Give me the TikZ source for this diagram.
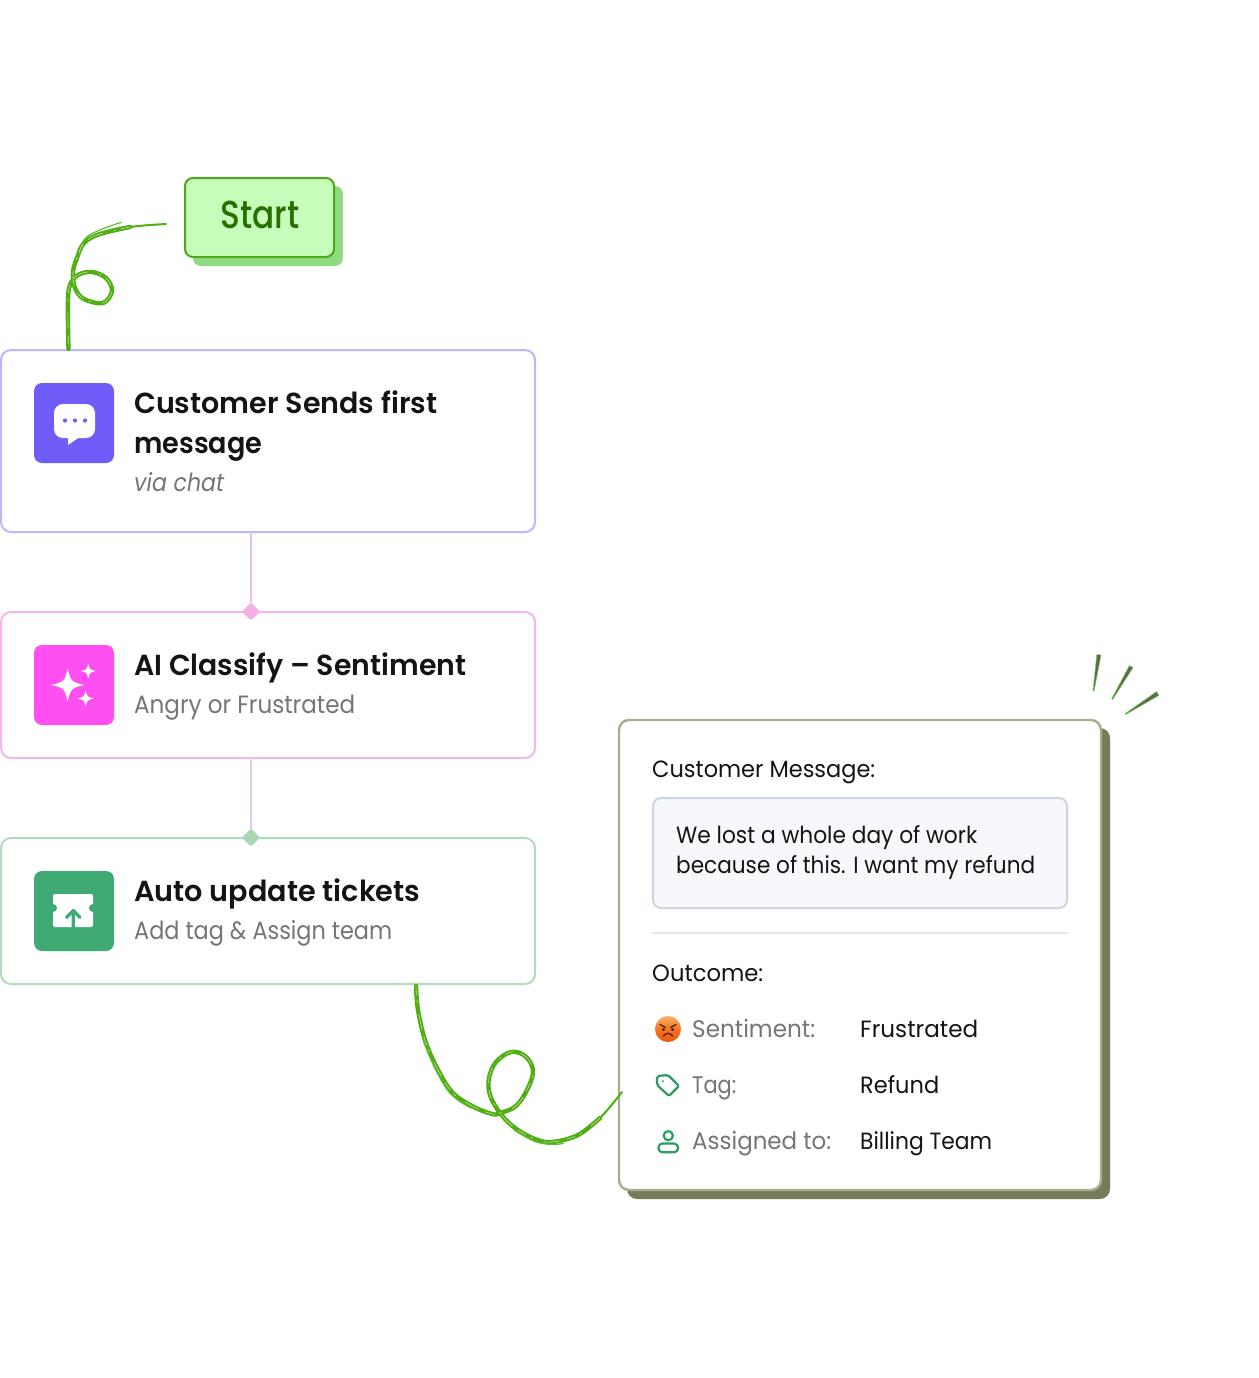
\documentclass[tikz,border=0pt]{standalone}
\usepackage{fontspec}
\usepackage{graphicx}
\usetikzlibrary{shapes.geometric,calc}
\setmainfont{Poppins}
\newfontfamily\medfont{Poppins Medium}
\newfontfamily\semifont{Poppins SemiBold}
\newsavebox\fitsave
\newcommand\fitw[2]{\sbox\fitsave{#2}\pgfmathsetmacro\fitratio{#1/\wd\fitsave}\scalebox{\fitratio}[1]{\usebox\fitsave}}
\newcommand\sparkle[3]{\fill[white] (#1,#2-#3) .. controls (#1+.2*#3,#2-.2*#3) .. (#1+#3,#2) .. controls (#1+.2*#3,#2+.2*#3) .. (#1,#2+#3) .. controls (#1-.2*#3,#2+.2*#3) .. (#1-#3,#2) .. controls (#1-.2*#3,#2-.2*#3) .. cycle;}
\definecolor{ink}{HTML}{141414}
\definecolor{mute}{HTML}{757575}
\definecolor{vine}{HTML}{4FAE12}
\definecolor{iconG}{HTML}{2A9D63}
\definecolor{cardE}{HTML}{A9AD8E}
\definecolor{cardS}{HTML}{757C5A}
\definecolor{violetI}{HTML}{705CF8}
\definecolor{pinkI}{HTML}{FF4FF0}
\definecolor{greenI}{HTML}{3FAA74}
\tikzset{
  flowbox/.style={draw,line width=2pt,rounded corners=10pt,fill=white,anchor=north west,minimum width=534pt,inner sep=0pt,outer sep=0pt},
  iconbox/.style={rounded corners=8pt},
  title/.style={anchor=base west,inner sep=0pt,text=ink,font=\fontsize{29}{32}\selectfont\semifont},
  sub/.style={anchor=base west,inner sep=0pt,text=mute,font=\fontsize{25}{28}\selectfont},
  body/.style={anchor=base west,inner sep=0pt,text=ink,font=\fontsize{23.5}{26}\selectfont},
  keyt/.style={anchor=base west,inner sep=0pt,text=mute,font=\fontsize{24}{26}\selectfont},
  brushthin/.style={draw=vine,line width=2pt,line cap=round,line join=round},
  brush/.style={draw=vine,line width=4.4pt,line cap=round,line join=round},
  strand/.style={draw=vine!85,line width=1.2pt,line cap=round,line join=round},
  dry/.style={draw=white,line width=.6pt,opacity=.6,dash pattern=on 9pt off 5pt on 3pt off 11pt on 16pt off 7pt},
  link/.style={line width=2pt},
  joint/.style={diamond,minimum width=18pt,minimum height=18pt,inner sep=0pt,outer sep=0pt,rounded corners=2pt},
  glyph/.style={draw=iconG,line width=2.2pt,line join=round,rounded corners=2pt},
  tick/.style={fill=cardS!85!black,draw=green!35!cardE,line width=.5pt,line join=round}
}
\begin{document}
\begin{tikzpicture}[x=1pt,y=-1pt]
\useasboundingbox (0,0) rectangle (1258,1378);
\fill[white] (0,0) rectangle (1258,1378);

% Start
\fill[fill={rgb,255:red,143;green,219;blue,130},rounded corners=8pt] (193,186) rectangle (343,266);
\node[draw={rgb,255:red,78;green,168;blue,26},line width=2pt,fill={rgb,255:red,199;green,253;blue,187},rounded corners=8pt,anchor=north west,minimum width=149pt,minimum height=79pt,inner sep=0pt,outer sep=0pt] (start) at (185,178) {};
\node[anchor=base west,inner sep=0pt,text={rgb,255:red,38;green,112;blue,0},font=\fontsize{39}{42}\selectfont\medfont] (startT) at (220,228) {\fitw{79}{Start}};

% flow boxes
\node[flowbox,draw={rgb,255:red,188;green,184;blue,251},minimum height=182pt] (box1) at (1,350) {};
\node[flowbox,draw={rgb,255:red,246;green,183;blue,232},minimum height=146pt] (box2) at (1,612) {};
\node[flowbox,draw={rgb,255:red,176;green,220;blue,188},minimum height=146pt] (box3) at (1,838) {};
\node[joint,fill={rgb,255:red,244;green,177;blue,228}] (j1) at (251,611.5) {};
\node[joint,fill={rgb,255:red,168;green,216;blue,180}] (j2) at (251,837.5) {};
\draw[link,draw={rgb,255:red,220;green,196;blue,238}] (box1.south -| j1) -- (j1.north);
\draw[link,draw={rgb,255:red,228;green,200;blue,236}] (box2.south -| j2) -- (j2.north);

% icon 1
\fill[iconbox,fill=violetI] (34,383) rectangle (114,463);
\fill[white,rounded corners=9pt] (54,404) rectangle (95,438);
\fill[white] (68,434) -- (68,445) -- (79,437.5) -- cycle;
\foreach \dx in {65,75,85} \fill[fill=violetI] (\dx,420.5) circle (2.1pt);
% icon 2
\fill[iconbox,fill=pinkI] (34,645) rectangle (114,725);
\sparkle{67.7}{685}{16.5}
\sparkle{88.3}{671}{7.4}
\sparkle{85.7}{698.5}{8}
% icon 3
\fill[iconbox,fill=greenI] (34,871) rectangle (114,951);
\fill[white,rounded corners=2pt] (53,894) rectangle (93,927);
\foreach \nx in {53,93} \fill[fill=greenI] (\nx,908) circle (4pt);
\draw[draw=greenI,line width=3.2pt,line cap=round,line join=round] (73.3,928) -- (73.3,912) (66.5,917.5) -- (73.3,910.5) -- (80,917.5);

% texts of the flow boxes
\node[title] (t1a) at (134,413) {\fitw{303}{Customer Sends first}};
\node[title] (t1b) at (134,453) {\fitw{128}{message}};
\node[sub,font=\fontsize{25}{28}\selectfont\itshape] (t1c) at (134,491) {\fitw{90}{via chat}};
\node[title] (t2a) at (134,675) {\fitw{332}{AI Classify – Sentiment}};
\node[sub] (t2b) at (134,713) {\fitw{221}{Angry or Frustrated}};
\node[title] (t3a) at (134,901) {\fitw{286}{Auto update tickets}};
\node[sub] (t3b) at (134,939) {\fitw{258}{Add tag \& Assign team}};

% card
\fill[fill=cardS,rounded corners=10pt] (627,728) rectangle (1110,1199);
\node[draw=cardE,line width=2.4pt,fill=white,rounded corners=10pt,anchor=north west,minimum width=482pt,minimum height=470pt,inner sep=0pt,outer sep=0pt] (card) at (619,720) {};
\node[draw={rgb,255:red,205;green,214;blue,224},line width=2pt,fill={rgb,255:red,246;green,248;blue,251},rounded corners=8pt,anchor=north west,minimum width=414pt,minimum height=110pt,inner sep=0pt,outer sep=0pt] (quote) at (653,798) {};
\node[body] (c1) at (652,777) {\fitw{223}{Customer Message:}};
\node[body] (q1) at (676,843) {\fitw{301}{We lost a whole day of work}};
\node[body] (q2) at (676,873) {\fitw{359}{because of this. I want my refund}};
\coordinate (divL) at (652,933); \coordinate (divR) at (1068,933);
\draw[draw={rgb,255:red,230;green,230;blue,230},line width=2pt] (divL) -- (divR);
\node[body] (c2) at (652,981) {\fitw{111}{Outcome:}};
\node[keyt] (k1) at (692,1037) {\fitw{123}{Sentiment:}};
\node[keyt] (k2) at (692,1093) {\fitw{44}{Tag:}};
\node[keyt] (k3) at (692,1149) {\fitw{139}{Assigned to:}};
\node[body] (v1) at (860,1037) {\fitw{118}{Frustrated}};
\node[body] (v2) at (860,1093) {\fitw{79}{Refund}};
\node[body] (v3) at (860,1149) {\fitw{132}{Billing Team}};

% emoji
\shade[top color={rgb,255:red,250;green,178;blue,100},bottom color={rgb,255:red,236;green,88;blue,12},middle color={rgb,255:red,243;green,116;blue,36}] (668,1029) circle (13pt);
\draw[draw={rgb,255:red,90;green,40;blue,15},line width=1.5pt,line cap=round] (660,1024.5) -- (665.5,1027.5) (676,1024.5) -- (670.5,1027.5);
\fill[fill={rgb,255:red,70;green,30;blue,10}] (663.5,1029.5) circle (1.5pt) (672.5,1029.5) circle (1.5pt);
\draw[draw={rgb,255:red,90;green,40;blue,15},line width=1.5pt,line cap=round] (663.5,1036) .. controls (666,1032.5) and (670,1032.5) .. (672.5,1036);
% tag
\draw[glyph] (657,1076) -- (668,1075) -- (679,1086) -- (669,1096) -- (657,1085) -- cycle;
\fill[fill=iconG] (663,1081) circle (1pt);
% person
\draw[glyph,rounded corners=0pt] (668.3,1135.7) circle (4.6pt);
\draw[glyph,rounded corners=4pt] (658.5,1152.3) -- (658.5,1143.5) -- (678,1143.5) -- (678,1152.3) -- cycle;

% ticks
\path[tick] (1096.8,654.5) -- (1101,655) -- (1094,691) -- (1093,691) -- cycle;
\path[tick] (1129.4,665.6) -- (1133,667.6) -- (1112.6,699.5) -- (1111.6,699) -- cycle;
\path[tick] (1156.6,691.6) -- (1158.8,695.4) -- (1125.5,714.6) -- (1125,713.8) -- cycle;

% brush connectors
\coordinate (v1a) at (166,224); \coordinate (v1b) at (68.5,349);
\coordinate (v2a) at (416,986); \coordinate (v2b) at (622,1092);
\def\vineAtail{plot[smooth,tension=.6] coordinates {(v1a) (130,227) (100,234)}}
\def\vineA{plot[smooth,tension=.6] coordinates {(130,227) (100,234) (84,243) (77,258) (73,272) (75,288) (84,299) (103,303) (112,291) (106,278) (92,272) (78,275) (70,285) (68,300) (68,325) (v1b)}}
\def\vineBtail{plot[smooth,tension=.6] coordinates {(578,1135) (600,1118) (v2b)}}
\def\vineB{plot[smooth,tension=.6] coordinates {(v2a) (418,1010) (425,1040) (437,1068) (452,1092) (472,1106) (492,1114) (500,1113) (516,1106) (528,1088) (533,1070) (525,1056) (511,1052) (496,1062) (489,1078) (490,1095) (500,1113) (515,1128) (535,1139) (552,1142) (578,1135) (600,1118)}}
\draw[brushthin] \vineAtail;
\draw[brush] \vineA;
\draw[strand,shift={(1.2,-1.6)}] plot[smooth,tension=.6] coordinates {(120,224) (100,231) (84,240) (78,256)};
\draw[dry] \vineA;
\draw[brushthin] \vineBtail;
\draw[brush] \vineB;
\draw[strand,shift={(-1.2,2.2)}] plot[smooth,tension=.6] coordinates {(425,1040) (437,1068) (452,1092) (472,1106)};
\draw[strand,shift={(-.5,2.4)}] plot[smooth,tension=.6] coordinates {(515,1128) (535,1139) (552,1142) (564,1141)};
\draw[dry] \vineB;
\end{tikzpicture}
\end{document}
